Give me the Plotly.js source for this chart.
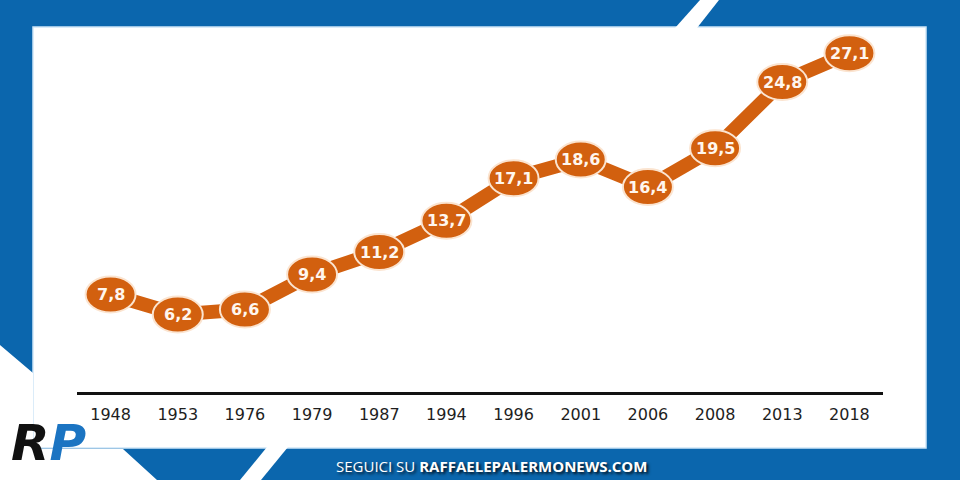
<!DOCTYPE html>
<html>
<head>
<meta charset="utf-8">
<script src="https://cdn.plot.ly/plotly-3.0.1.min.js"></script>
<style>
  html, body { margin: 0; padding: 0; background: #0b66ad; }
  #chart { width: 960px; height: 480px; }
</style>
</head>
<body>
<div id="chart"></div>
<script>
// ---- data ----
const years = ["1948", "1953", "1976", "1979", "1987", "1994", "1996", "2001", "2006", "2008", "2013", "2018"];
const values = [7.8, 6.2, 6.6, 9.4, 11.2, 13.7, 17.1, 18.6, 16.4, 19.5, 24.8, 27.1];
const valueLabels = ["7,8", "6,2", "6,6", "9,4", "11,2", "13,7", "17,1", "18,6", "16,4", "19,5", "24,8", "27,1"];
const footerText = "SEGUICI SU <b>RAFFAELEPALERMONEWS.COM</b>";

// ---- styles ----
const BLUE = "#0b66ad";
const ORANGE = "#d2600f";
const W = 960, H = 480;
const px = x => x / W;
const py = y => 1 - y / H;
const path = pts => "M " + pts.map(p => px(p[0]).toFixed(5) + " " + py(p[1]).toFixed(5)).join(" L ") + " Z";

const bgShapes = [
  { type: "rect", xref: "paper", yref: "paper", layer: "below",
    x0: px(33), x1: px(926), y0: py(448), y1: py(27),
    fillcolor: "#ffffff", line: { color: "#cfe6f7", width: 1.5 } },
  { type: "path", xref: "paper", yref: "paper", layer: "below",
    path: path([[0, 345], [33, 373], [33, 449], [123, 449], [157, 480], [0, 480]]),
    fillcolor: "#ffffff", line: { width: 0 } },
  { type: "path", xref: "paper", yref: "paper", layer: "below",
    path: path([[267, 447], [288, 447], [261, 480], [240, 480]]),
    fillcolor: "#ffffff", line: { width: 0 } },
  { type: "path", xref: "paper", yref: "paper", layer: "below",
    path: path([[700, 0], [719, 0], [697, 28], [675, 28]]),
    fillcolor: "#ffffff", line: { width: 0 } }
];

const markerShapes = years.map((yr, i) => ({
  type: "circle", xref: "x", yref: "y", layer: "above",
  xsizemode: "pixel", ysizemode: "pixel",
  xanchor: i, yanchor: values[i],
  x0: -25, x1: 25, y0: -18, y1: 18,
  fillcolor: ORANGE, line: { color: "#fbe4d0", width: 2 }
}));

const labelAnnotations = years.map((yr, i) => ({
  x: i, y: values[i], xref: "x", yref: "y",
  text: valueLabels[i], showarrow: false,
  font: { family: "DejaVu Sans, sans-serif", size: 16, color: "#fff6ee", weight: 700 }
}));

const otherAnnotations = [
  { xref: "paper", yref: "paper", x: px(492), y: py(466), xanchor: "center", yanchor: "middle",
    text: footerText, showarrow: false,
    font: { family: "Open Sans, sans-serif", size: 15, color: "#ffffff",
            shadow: "2px 2px 3px rgba(0,0,0,0.85)" } },
  { xref: "paper", yref: "paper", x: px(48), y: py(443), xanchor: "center", yanchor: "middle",
    text: "<span style='color:#111111'>R</span><span style='color:#1b74c2'>P</span>",
    showarrow: false,
    font: { family: "DejaVu Sans, sans-serif", size: 50, weight: 700, style: "italic", color: "#111111" } }
];

const trace = {
  type: "scatter", mode: "lines",
  x: years.map((y, i) => i), y: values,
  line: { color: ORANGE, width: 14 },
  hoverinfo: "skip"
};

const layout = {
  width: W, height: H,
  paper_bgcolor: BLUE, plot_bgcolor: "rgba(0,0,0,0)",
  margin: { l: 0, r: 0, t: 0, b: 0 },
  showlegend: false,
  xaxis: {
    domain: [px(77), px(883)],
    range: [-0.5, 11.5],
    tickmode: "array", tickvals: years.map((y, i) => i), ticktext: years,
    showgrid: false, zeroline: false,
    showline: true, linecolor: "#111111", linewidth: 2.5,
    ticks: "outside", ticklen: 6, tickcolor: "rgba(0,0,0,0)",
    tickfont: { family: "DejaVu Sans, sans-serif", size: 16, color: "#1e1e1e" }
  },
  yaxis: {
    domain: [py(392), py(17)],
    range: [0, 30],
    showgrid: false, zeroline: false, showline: false, showticklabels: false, ticks: ""
  },
  shapes: bgShapes.concat(markerShapes),
  annotations: labelAnnotations.concat(otherAnnotations)
};

Plotly.newPlot("chart", [trace], layout, { displayModeBar: false, staticPlot: true });
</script>
</body>
</html>
